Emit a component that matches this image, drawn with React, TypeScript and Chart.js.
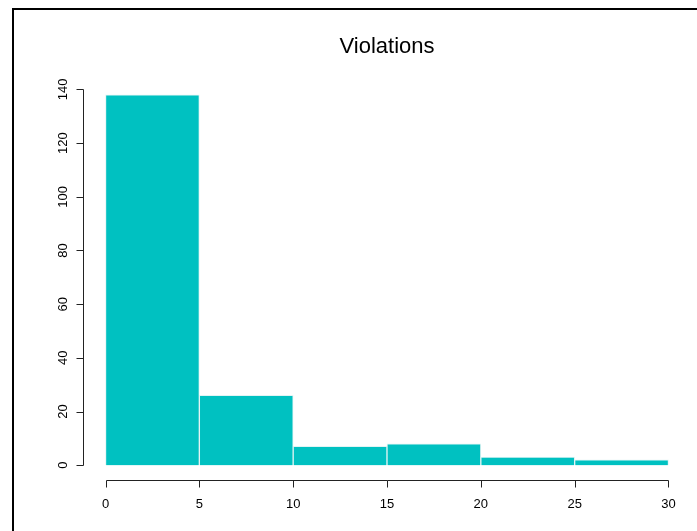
import { useEffect, useRef } from "react";
import { Chart, registerables } from "chart.js";
Chart.register(...registerables);

const chartTitle = "Violations";
const binEdges = [0, 5, 10, 15, 20, 25, 30];
const counts = [138, 26, 7, 8, 3, 2];
const xTicks = [0, 5, 10, 15, 20, 25, 30];
const yTicks = [0, 20, 40, 60, 80, 100, 120, 140];

export default function App() {
  const ref = useRef<HTMLCanvasElement>(null);
  useEffect(() => {
    document.body.style.margin = "0";
    const canvas = ref.current!;
    const data = counts.map((c, i) => ({ x: (binEdges[i] + binEdges[i + 1]) / 2, y: c }));
    const xLo = binEdges[0];
    const xHi = binEdges[binEdges.length - 1];
    const xPad = (xHi - xLo) * 0.04;
    const yMax = Math.max(...counts);
    const yPad = yMax * 0.04;
    const font = "'Liberation Sans', Arial, sans-serif";

    const axesPlugin = {
      id: "rAxes",
      afterDraw(chart: any) {
        const ctx = chart.ctx as CanvasRenderingContext2D;
        const { left, right, bottom } = chart.chartArea;
        const xs = chart.scales.x;
        const ys = chart.scales.y;
        ctx.save();
        // frame
        ctx.fillStyle = "#000";
        ctx.fillRect(12, 8, 2, 600);
        ctx.fillRect(12, 8, 800, 2);
        // title
        ctx.fillStyle = "#000";
        ctx.font = `22px ${font}`;
        ctx.textAlign = "center";
        ctx.textBaseline = "alphabetic";
        ctx.fillText(chartTitle, (left + right) / 2, 53);

        ctx.strokeStyle = "#222";
        ctx.lineWidth = 1;
        // y axis
        const ax = Math.round(left) + 0.5;
        const y0 = Math.round(ys.getPixelForValue(yTicks[0])) + 0.5;
        const y1 = Math.round(ys.getPixelForValue(yTicks[yTicks.length - 1])) + 0.5;
        ctx.beginPath();
        ctx.moveTo(ax, y0);
        ctx.lineTo(ax, y1);
        yTicks.forEach((v) => {
          const py = Math.round(ys.getPixelForValue(v)) + 0.5;
          ctx.moveTo(ax, py);
          ctx.lineTo(ax - 7, py);
        });
        // x axis
        const ay = Math.round(bottom) + 0.5;
        const x0 = Math.round(xs.getPixelForValue(xTicks[0])) + 0.5;
        const x1 = Math.round(xs.getPixelForValue(xTicks[xTicks.length - 1])) + 0.5;
        ctx.moveTo(x0, ay);
        ctx.lineTo(x1, ay);
        xTicks.forEach((v) => {
          const px = Math.round(xs.getPixelForValue(v)) + 0.5;
          ctx.moveTo(px, ay);
          ctx.lineTo(px, ay + 7);
        });
        ctx.stroke();

        ctx.fillStyle = "#000";
        ctx.font = `13px ${font}`;
        ctx.textAlign = "center";
        ctx.textBaseline = "middle";
        xTicks.forEach((v) => {
          ctx.fillText(String(v), xs.getPixelForValue(v), ay + 24);
        });
        yTicks.forEach((v) => {
          ctx.save();
          ctx.translate(ax - 20, ys.getPixelForValue(v));
          ctx.rotate(-Math.PI / 2);
          ctx.fillText(String(v), 0, 0);
          ctx.restore();
        });
        ctx.restore();
      },
    };

    const chart = new Chart(canvas, {
      type: "bar",
      data: {
        datasets: [
          {
            data,
            backgroundColor: "#00C1C1",
            borderColor: "#E2F4F4",
            borderWidth: 1,
            barPercentage: 1,
            categoryPercentage: 1,
          },
        ],
      },
      options: {
        animation: false,
        responsive: false,
        devicePixelRatio: 1,
        layout: { padding: { left: 83, right: 6, top: 80, bottom: 51 } },
        plugins: { legend: { display: false }, tooltip: { enabled: false }, title: { display: false } },
        scales: {
          x: {
            type: "linear",
            display: false,
            offset: false,
            min: xLo - xPad,
            max: xHi + xPad,
            afterBuildTicks: (s: any) => {
              s.ticks = xTicks.map((v) => ({ value: v }));
            },
          },
          y: {
            type: "linear",
            display: false,
            min: -yPad,
            max: yMax + yPad,
          },
        },
      },
      plugins: [axesPlugin],
    } as any);
    return () => chart.destroy();
  }, []);
  return (
    <div style={{ position: "absolute", left: 0, top: 0, width: 697, height: 531, background: "#fff" }}>
      <canvas ref={ref} width={697} height={531} style={{ display: "block", width: 697, height: 531 }} />
    </div>
  );
}
